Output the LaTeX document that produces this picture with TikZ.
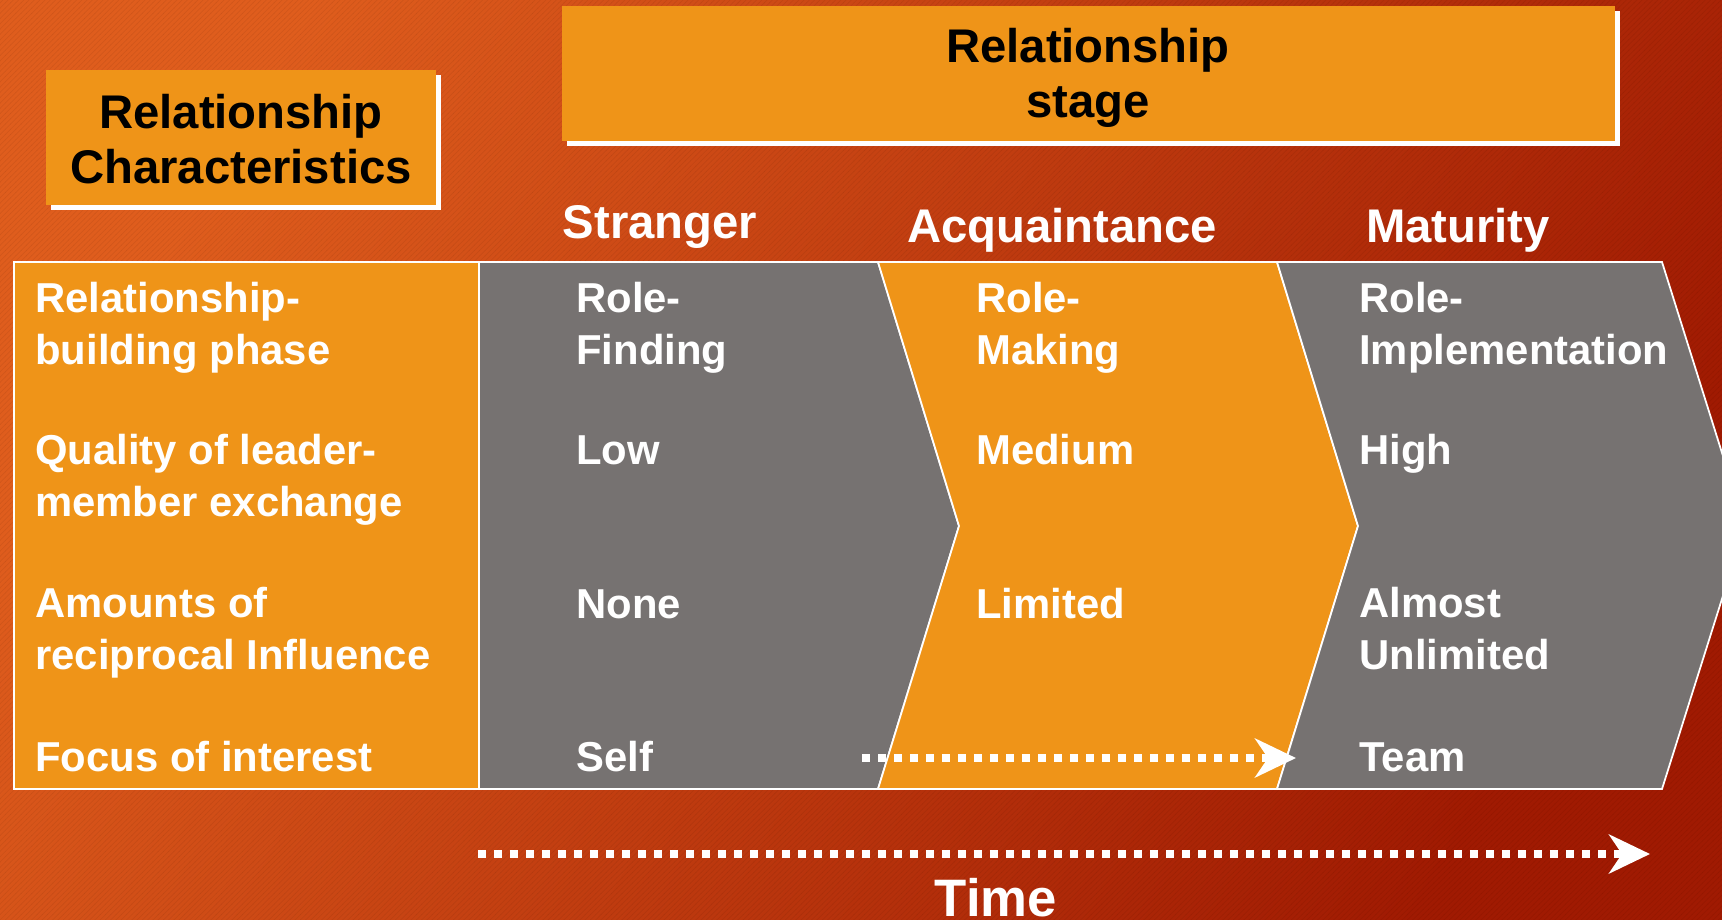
\documentclass[tikz,border=0pt]{standalone}
\usepackage{fontspec}
\setmainfont{Liberation Sans}
\usetikzlibrary{
  arrows.meta,
  patterns
}
\definecolor{rust}{HTML}{DF5D1D}
\definecolor{ember}{HTML}{A01A02}
\definecolor{amber}{HTML}{EF9418}
\definecolor{slate}{HTML}{767271}

\begin{document}
\begin{tikzpicture}[x=0.02cm, y=-0.02cm,
  lbl/.style={font=\bfseries\fontsize{23.8}{29.5}\selectfont, text=white, align=left, anchor=base west, inner sep=0pt},
  hdr/.style={font=\bfseries\fontsize{26.9}{31.5}\selectfont, align=center, inner sep=0pt},
  rim/.style={draw=white, line width=1pt},
  timeline/.style={white, line width=0.16cm, dash pattern=on 0.16cm off 0.16cm,
    -{Stealth[length=0.82cm, width=0.78cm, inset=0.26cm]}}
]
  \useasboundingbox (0,0) rectangle (1722,920);

  % Backdrop
  \shade[top color=rust, bottom color=ember, shading angle=60] (0,0) rectangle (1722,920);
  \fill[pattern=north east lines, pattern color=black, opacity=0.06] (0,0) rectangle (1722,920);

  % Heading boxes
  \fill[white] (51,75) rectangle (441,210);
  \fill[amber] (46,70) rectangle (436,205);
  \node[hdr] (charhdr) at (241,139) {Relationship\\Characteristics};
  \fill[white] (567,11) rectangle (1620,146);
  \fill[amber] (562,6) rectangle (1615,141);
  \node[hdr] (stagehdr) at (1088,78) {Relationship\\stage};

  \node[hdr, text=white, anchor=base] (stranger) at (660,238) {Stranger};
  \node[hdr, text=white, anchor=base] (acquaint) at (1062,242) {Acquaintance};
  \node[hdr, text=white, anchor=base] (maturity) at (1458,242) {Maturity};

  % Columns
  \path[fill=amber, rim] (14,262) rectangle (479,789);
  \path[fill=slate, rim] (479,262) -- (878,262) -- (959,526) -- (878,789) -- (479,789) -- cycle;
  \path[fill=amber, rim] (878,262) -- (1277,262) -- (1358,526) -- (1277,789) -- (878,789) -- (959,526) -- cycle;
  \path[fill=slate, rim] (1277,262) -- (1662,262) -- (1745,526) -- (1662,789) -- (1277,789) -- (1358,526) -- cycle;

  % Row 1 (two-line cells sit on their last baseline)
  \node[lbl] (phase) at (35,364) {Relationship-\\building phase};
  \node[lbl] (phaseA) at (576,364) {Role-\\Finding};
  \node[lbl] (phaseB) at (976,364) {Role-\\Making};
  \node[lbl] (phaseC) at (1359,364) {Role-\\Implementation};
  % Row 2
  \node[lbl] (quality) at (35,516) {Quality of leader-\\member exchange};
  \node[lbl] (qualityA) at (576,464) {Low};
  \node[lbl] (qualityB) at (976,464) {Medium};
  \node[lbl] (qualityC) at (1359,464) {High};
  % Row 3
  \node[lbl] (influence) at (35,669) {Amounts of\\reciprocal Influence};
  \node[lbl] (influenceA) at (576,618) {None};
  \node[lbl] (influenceB) at (976,618) {Limited};
  \node[lbl] (influenceC) at (1359,669) {Almost\\Unlimited};
  % Row 4
  \node[lbl] (focus) at (35,771) {Focus of interest};
  \node[lbl] (focusA) at (576,771) {Self};
  \node[lbl] (focusC) at (1359,771) {Team};

  % Dotted arrows
  \coordinate (selfend) at (862,758);
  \coordinate (teamend) at (1296,758);
  \draw[timeline] (selfend) -- (teamend);
  \coordinate (timestart) at (478,854);
  \coordinate (timeend) at (1650,854);
  \draw[timeline] (timestart) -- (timeend);
  \node[hdr, text=white, anchor=base, font=\bfseries\fontsize{30}{34}\selectfont] (time) at (996,916) {Time};
\end{tikzpicture}
\end{document}
